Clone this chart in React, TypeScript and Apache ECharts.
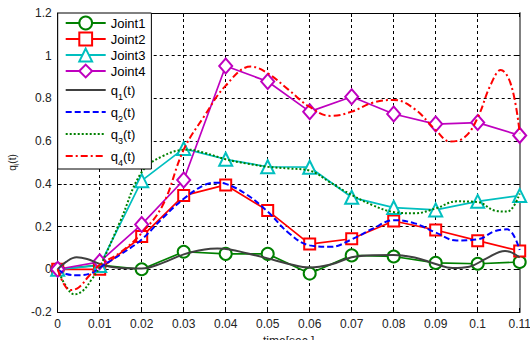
import React, { useEffect, useRef } from "react";
import * as echarts from "echarts";

// ---- data ----
const jointT = [0, 0.01, 0.02, 0.03, 0.04, 0.05, 0.06, 0.07, 0.08, 0.09, 0.1, 0.11];
const joint1 = [0, 0.02, 0, 0.082, 0.072, 0.072, -0.02, 0.065, 0.06, 0.03, 0.026, 0.034];
const joint2 = [0, 0.0, 0.153, 0.345, 0.395, 0.275, 0.118, 0.143, 0.226, 0.184, 0.134, 0.086];
const joint3 = [0, 0.018, 0.415, 0.565, 0.515, 0.48, 0.478, 0.337, 0.289, 0.278, 0.318, 0.345];
const joint4 = [0, 0.035, 0.21, 0.418, 0.952, 0.879, 0.738, 0.808, 0.727, 0.68, 0.687, 0.627];

const q1T = [0, 0.002, 0.0045, 0.007, 0.01, 0.0125, 0.015, 0.02, 0.025, 0.03, 0.035, 0.038, 0.041, 0.045, 0.05, 0.055, 0.06, 0.065, 0.07, 0.075, 0.08, 0.085, 0.09, 0.094, 0.098, 0.102, 0.1065, 0.11];
const q1 = [0, 0.035, 0.056, 0.048, 0.025, 0.012, 0.006, 0.004, 0.03, 0.07, 0.093, 0.097, 0.093, 0.075, 0.051, 0.025, 0.008, 0.022, 0.056, 0.066, 0.067, 0.055, 0.025, 0.006, 0.012, 0.05, 0.086, 0.055];

const q2T = [0, 0.002, 0.005, 0.008, 0.01, 0.015, 0.02, 0.025, 0.03, 0.035, 0.038, 0.04, 0.045, 0.05, 0.055, 0.06, 0.065, 0.07, 0.075, 0.08, 0.085, 0.09, 0.095, 0.1, 0.104, 0.107, 0.11];
const q2 = [0, -0.022, -0.028, -0.018, 0.008, 0.07, 0.14, 0.24, 0.33, 0.395, 0.405, 0.4, 0.35, 0.27, 0.17, 0.112, 0.105, 0.14, 0.19, 0.23, 0.215, 0.172, 0.135, 0.14, 0.178, 0.187, 0.09];

const q3T = [0, 0.002, 0.004, 0.006, 0.008, 0.01, 0.015, 0.02, 0.025, 0.031, 0.035, 0.04, 0.045, 0.05, 0.055, 0.06, 0.065, 0.07, 0.075, 0.08, 0.085, 0.09, 0.095, 0.1, 0.104, 0.107, 0.11];
const q3 = [0, -0.08, -0.117, -0.1, -0.05, 0.01, 0.23, 0.455, 0.53, 0.56, 0.545, 0.515, 0.495, 0.48, 0.472, 0.462, 0.405, 0.348, 0.3, 0.268, 0.262, 0.285, 0.318, 0.315, 0.275, 0.27, 0.355];

const q4T = [0, 0.0015, 0.003, 0.005, 0.0075, 0.01, 0.015, 0.02, 0.025, 0.03, 0.035, 0.04, 0.046, 0.05, 0.055, 0.06, 0.065, 0.07, 0.075, 0.08, 0.085, 0.09, 0.0935, 0.097, 0.1, 0.103, 0.1055, 0.108, 0.11];
const q4 = [0, -0.07, -0.097, -0.085, -0.03, 0.02, 0.08, 0.17, 0.3, 0.56, 0.72, 0.86, 0.949, 0.918, 0.84, 0.76, 0.718, 0.738, 0.78, 0.793, 0.75, 0.652, 0.598, 0.62, 0.71, 0.86, 0.933, 0.86, 0.637];

const jointNames = ["Joint1", "Joint2", "Joint3", "Joint4"];
const qNames = ["q1(t)", "q2(t)", "q3(t)", "q4(t)"];

const xTicks = { min: 0, max: 0.11, interval: 0.01 };
const yTicks = { min: -0.2, max: 1.2, interval: 0.2 };

const FONT = "Liberation Sans, Arial, sans-serif";

function pairs(t: number[], v: number[]) {
  return t.map((x, i) => [x, v[i]]);
}

export default function App() {
  const ref = useRef<HTMLDivElement>(null);
  useEffect(() => {
    if (!ref.current) return;
    const chart = echarts.init(ref.current, undefined, { renderer: "svg" });

    const gridLine = { show: true, lineStyle: { color: "#000", type: [3, 3] as any, width: 1 } };
    const tickLabel = { color: "#222", fontSize: 12, fontFamily: FONT };

    const jointSeries = (name: string, data: number[], color: string, symbol: string, size: any) => ({
      name,
      type: "line",
      data: pairs(jointT, data),
      symbol,
      symbolSize: size,
      showSymbol: true,
      lineStyle: { color, width: 1.7 },
      itemStyle: { color, borderColor: color, borderWidth: 1.6 },
      z: 2,
    });
    const qSeries = (name: string, t: number[], data: number[], color: string, type: any) => ({
      name,
      type: "line",
      data: pairs(t, data),
      smooth: 0.4,
      symbol: "none",
      lineStyle: { color, width: 2, type },
      itemStyle: { color },
      z: 3,
    });

    const subRich = {
      m: { fontSize: 13, lineHeight: 22, fontFamily: FONT, color: "#000" },
      s: { fontSize: 9, lineHeight: 14, verticalAlign: "bottom", fontFamily: FONT, color: "#000" },
    };

    chart.setOption({
      animation: false,
      grid: { left: 57.7, right: 10.3, top: 13, bottom: 28, show: false, containLabel: false, outerBoundsMode: "none" },
      legend: {
        left: 57.7,
        top: 13,
        orient: "vertical",
        itemWidth: 40,
        itemHeight: 16,
        itemGap: 0,
        padding: [2, 6, 2, 7],
        backgroundColor: "#fff",
        borderColor: "#000",
        borderWidth: 1,
        selectedMode: false,
        z: 10,
        textStyle: { fontSize: 13, fontFamily: FONT, color: "#000", lineHeight: 16, rich: subRich },
        formatter: (name: string) => {
          const m = name.match(/^q(\d)\(t\)$/);
          if (m) return `{m|q}{s|${m[1]}}{m|(t)}`;
          return name;
        },
        data: [
          ...jointNames,
          ...qNames.map((n) => ({
            name: n,
            itemStyle: { color: "rgba(0,0,0,0)", borderColor: "rgba(0,0,0,0)", borderWidth: 0, opacity: 0 },
          })),
        ],
      },
      xAxis: [
        {
          type: "value",
          ...xTicks,
          position: "bottom",
          name: "time[sec.]",
          nameLocation: "middle",
          nameGap: 21,
          nameTextStyle: { fontSize: 12, fontFamily: FONT, color: "#222" },
          axisLine: { show: true, onZero: false, lineStyle: { color: "#000", width: 1 } },
          axisTick: { show: true, inside: true, length: 4, lineStyle: { color: "#000" } },
          axisLabel: { ...tickLabel, margin: 6, formatter: (v: number) => String(+v.toFixed(2)) },
          splitLine: gridLine,
        },
        {
          type: "value",
          ...xTicks,
          position: "top",
          axisLine: { show: true, onZero: false, lineStyle: { color: "#000", width: 1 } },
          axisTick: { show: true, inside: true, length: 4, lineStyle: { color: "#000" } },
          axisLabel: { show: false },
          splitLine: { show: false },
        },
      ],
      yAxis: [
        {
          type: "value",
          ...yTicks,
          position: "left",
          name: "{m|q}{s|i}{m|(t)}",
          nameLocation: "middle",
          nameGap: 38,
          nameRotate: 90,
          nameTextStyle: {
            rich: {
              m: { fontSize: 10, lineHeight: 14, fontFamily: FONT, color: "#222" },
              s: { fontSize: 7, lineHeight: 10, verticalAlign: "bottom", fontFamily: FONT, color: "#222" },
            },
          },
          axisLine: { show: true, onZero: false, lineStyle: { color: "#000", width: 1 } },
          axisTick: { show: true, inside: true, length: 4, lineStyle: { color: "#000" } },
          axisLabel: { ...tickLabel, margin: 6, formatter: (v: number) => String(+v.toFixed(1)) },
          splitLine: gridLine,
        },
        {
          type: "value",
          ...yTicks,
          position: "right",
          axisLine: { show: true, onZero: false, lineStyle: { color: "#808080", width: 2 } },
          axisTick: { show: true, inside: true, length: 4, lineStyle: { color: "#000" } },
          axisLabel: { show: false },
          splitLine: { show: false },
        },
      ],
      series: [
        jointSeries("Joint1", joint1, "#008000", "emptyCircle", 12),
        jointSeries("Joint2", joint2, "#ff0000", "emptyRect", 11),
        jointSeries("Joint3", joint3, "#00bfbf", "emptyTriangle", 13),
        jointSeries("Joint4", joint4, "#bf00bf", "emptyDiamond", [13, 15]),
        qSeries("q1(t)", q1T, q1, "#404040", "solid"),
        qSeries("q2(t)", q2T, q2, "#0000ff", [6, 3]),
        qSeries("q3(t)", q3T, q3, "#008000", [2, 2]),
        qSeries("q4(t)", q4T, q4, "#ff0000", [7, 3, 2, 3]),
      ],
    });
    return () => chart.dispose();
  }, []);
  return (
    <div
      ref={ref}
      style={{ position: "fixed", left: 0, top: 0, width: 530, height: 340, background: "#fff" }}
    />
  );
}
